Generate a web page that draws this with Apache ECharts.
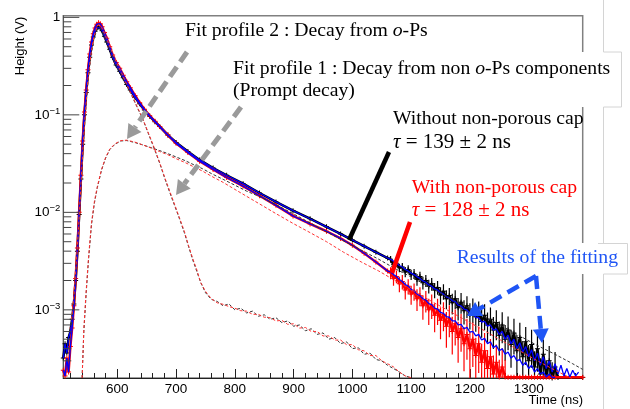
<!DOCTYPE html>
<html><head><meta charset="utf-8">
<script src="https://cdn.jsdelivr.net/npm/echarts@6/dist/echarts.min.js"></script>
<style>html,body{margin:0;padding:0;background:#fff}#c{width:630px;height:409px}</style>
</head><body><div id="c"></div>
<script>
// ---------- axis ticks ----------
const xMajorTicks = [600,700,800,900,1000,1100,1200,1300];
const xMinorTicks = [520,540,560,580,620,640,660,680,720,740,760,780,820,840,860,880,920,940,960,980,1020,1040,1060,1080,1120,1140,1160,1180,1220,1240,1260,1280,1320,1340,1360,1380];
const yMajorTicks = [0.001,0.01,0.1,1];
const yMinorTicks = [3e-4,4e-4,5e-4,6e-4,7e-4,8e-4,9e-4,2e-3,3e-3,4e-3,5e-3,6e-3,7e-3,8e-3,9e-3,0.02,0.03,0.04,0.05,0.06,0.07,0.08,0.09,0.2,0.3,0.4,0.5,0.6,0.7,0.8,0.9];

// ---------- data (ns, V) ----------
const smoothT = [508,511,514,517,520,523,526,529,532,535,538,541,544,547,550,553,556,559,562,565,568,571,574,578,582,587,592,598,604,610,616,622,630,638,646,655,664,672,686,700,720,740,763,786,814,842,870,899,928,956,980,1000,1020,1040,1060];
const blackSmoothV = [3.2e-4,4.5e-4,3.6e-4,5.2e-4,6e-4,8e-4,1.15e-3,2e-3,4e-3,9.5e-3,
  2.2e-2,5e-2,0.1,0.17,0.27,0.39,0.52,0.63,0.72,0.78,
  0.80,0.78,0.73,0.64,0.56,0.47,0.39,0.325,0.28,0.24,
  0.205,0.18,0.152,0.13,0.112,0.097,0.085,0.076,0.062,0.052,
  0.042,0.0345,0.0285,0.024,0.0197,0.0158,0.0128,0.0104,0.0086,0.0071,
  0.006,0.0052,0.0045,0.0039,0.0034];
const redSmoothV = [2.4e-4,2.1e-4,3.2e-4,2.3e-4,4.2e-4,6.5e-4,1.1e-3,2.1e-3,4.3e-3,1.0e-2,
  2.4e-2,5.4e-2,0.107,0.18,0.29,0.42,0.56,0.68,0.78,0.85,
  0.88,0.86,0.80,0.70,0.61,0.50,0.41,0.345,0.30,0.255,
  0.218,0.19,0.158,0.133,0.114,0.098,0.086,0.076,0.062,0.051,
  0.041,0.0335,0.0275,0.0228,0.0186,0.0148,0.0118,0.0092,0.0076,0.0064,
  0.0054,0.0046,0.0038,0.0031,0.0025];

const tailT = [1065,1070,1075,1080,1085,1090,1095,1100,1105,1110,1115,1120,1125,1130,1135,1140,1145,1150,1155,1160,1165,1170,1175,1180,1185,1190,1195,1200,1205,1210,1215,1220,1225,1230,1235,1240,1245,1250,1255,1260,1265,1270,1275,1280,1285,1290,1295,1300,1305,1310,1315,1320,1325,1330,1335,1340,1345];
const blackTailV = [3.3e-3,2.9e-3,3.0e-3,2.7e-3,2.75e-3,2.45e-3,2.6e-3,2.3e-3,2.35e-3,2.05e-3,
  2.2e-3,1.9e-3,2.0e-3,1.75e-3,1.85e-3,1.6e-3,1.7e-3,1.42e-3,1.55e-3,1.3e-3,
  1.4e-3,1.18e-3,1.3e-3,1.05e-3,1.2e-3,0.98e-3,1.1e-3,0.9e-3,1.02e-3,0.85e-3,
  0.95e-3,0.76e-3,0.88e-3,0.7e-3,0.8e-3,0.62e-3,0.74e-3,0.55e-3,0.7e-3,0.5e-3,
  0.62e-3,0.44e-3,0.58e-3,0.38e-3,0.52e-3,0.33e-3,0.47e-3,0.3e-3,0.44e-3,0.26e-3,
  0.4e-3,0.22e-3,0.35e-3,0.21e-3,0.3e-3,0.2e-3,0.26e-3];
const blackTailErr = [0.08,0.1,0.08,0.1,0.1,0.12,0.1,0.12,0.12,0.14,
  0.12,0.15,0.14,0.16,0.15,0.18,0.16,0.2,0.18,0.22,
  0.2,0.24,0.22,0.26,0.24,0.28,0.25,0.3,0.28,0.3,
  0.28,0.32,0.3,0.34,0.32,0.36,0.34,0.38,0.35,0.4,
  0.38,0.42,0.4,0.45,0.42,0.45,0.42,0.45,0.42,0.45,
  0.42,0.45,0.42,0.45,0.42,0.45,0.42];
const blackFloorT = [1350,1392];
const blackFloorV = [2.02e-4,2.02e-4];
const redTailV = [2.4e-3,2.1e-3,2.2e-3,1.85e-3,1.95e-3,1.6e-3,1.75e-3,1.45e-3,1.55e-3,1.3e-3,
  1.4e-3,1.1e-3,1.25e-3,1.0e-3,1.12e-3,0.88e-3,1.0e-3,0.78e-3,0.9e-3,0.68e-3,
  0.82e-3,0.6e-3,0.72e-3,0.52e-3,0.64e-3,0.45e-3,0.56e-3,0.4e-3,0.5e-3,0.34e-3,
  0.45e-3,0.29e-3,0.38e-3,0.25e-3,0.33e-3,0.22e-3,0.29e-3,0.205e-3,0.26e-3,0.205e-3,
  2.03e-4,2.03e-4,2.03e-4,2.03e-4,2.03e-4,2.03e-4,2.03e-4,2.03e-4,2.03e-4,2.03e-4,
  2.03e-4,2.03e-4,2.03e-4,2.03e-4,2.03e-4,2.03e-4,2.03e-4];
const redTailErr = [0.14,0.16,0.15,0.18,0.17,0.2,0.18,0.22,0.2,0.25,
  0.22,0.28,0.25,0.3,0.28,0.33,0.3,0.36,0.33,0.4,
  0.36,0.42,0.4,0.45,0.42,0.48,0.45,0.5,0.48,0.52,
  0.5,0.55,0.52,0.55,0.52,0.55,0.52,0.5,0.55,0.5,
  0,0,0,0,0,0,0,0,0,0,
  0,0,0,0,0,0,0];
const redFloorT = [1392];
const redFloorV = [2.03e-4];

const fitBlackTailV = [3.3e-3,3.15e-3,3.0e-3,2.85e-3,2.75e-3,2.6e-3,2.5e-3,2.38e-3,2.3e-3,2.18e-3,
  2.1e-3,1.98e-3,1.92e-3,1.8e-3,1.75e-3,1.64e-3,1.6e-3,1.5e-3,1.45e-3,1.36e-3,
  1.33e-3,1.24e-3,1.22e-3,1.12e-3,1.1e-3,1.02e-3,1.0e-3,0.92e-3,0.92e-3,0.84e-3,
  0.83e-3,0.75e-3,0.76e-3,0.68e-3,0.7e-3,0.62e-3,0.64e-3,0.56e-3,0.6e-3,0.5e-3,
  0.55e-3,0.45e-3,0.5e-3,0.4e-3,0.46e-3,0.37e-3,0.42e-3,0.33e-3,0.39e-3,0.3e-3,
  0.36e-3,0.27e-3,0.33e-3,0.25e-3,0.3e-3,0.23e-3,0.28e-3];
const fitBlackEndT = [1350,1355,1360,1365,1370,1375,1380,1385];
const fitBlackEndV = [0.22e-3,0.27e-3,0.21e-3,0.25e-3,0.205e-3,0.24e-3,0.21e-3,0.23e-3];
const fitRedTailV = [2.45e-3,2.3e-3,2.2e-3,2.05e-3,1.95e-3,1.82e-3,1.75e-3,1.62e-3,1.56e-3,1.45e-3,
  1.4e-3,1.3e-3,1.26e-3,1.16e-3,1.13e-3,1.04e-3,1.02e-3,0.94e-3,0.92e-3,0.85e-3,
  0.84e-3,0.77e-3,0.77e-3,0.7e-3,0.71e-3,0.64e-3,0.66e-3,0.59e-3,0.6e-3,0.54e-3,
  0.56e-3,0.49e-3,0.51e-3,0.45e-3,0.47e-3,0.41e-3,0.43e-3,0.38e-3,0.4e-3,0.35e-3,
  0.37e-3,0.32e-3,0.34e-3,0.3e-3,0.31e-3,0.27e-3,0.29e-3,0.25e-3,0.27e-3,0.23e-3,
  0.25e-3,0.22e-3,0.23e-3,0.205e-3,0.22e-3,0.203e-3,0.203e-3];

// o-Ps component (fit profile 2)
const opsT = [540,543,547,551,556,561,566,573,580,587,596,606,616,630,644,658,672,686,700,715,729,745,760,780,800,820,842,870,899,928,956,985,1015,1045,1075,1105,1135,1165,1195,1225,1255,1285,1315,1345,1375,1392];
const opsBlackV = [2e-4,6e-4,1.5e-3,3.3e-3,7.5e-3,0.0125,0.018,0.027,0.036,0.044,
  0.050,0.054,0.0545,0.052,0.049,0.046,0.043,0.040,0.037,0.034,
  0.031,0.028,0.025,0.0218,0.019,0.0165,0.0145,0.012,0.0097,0.0078,
  0.0063,0.0051,0.0041,0.0033,0.0026,0.0021,0.00166,0.00133,0.00106,0.00085,
  0.00068,0.00054,0.00043,0.00035,0.00028,0.000245];
const opsRedV = [2e-4,6.5e-4,1.6e-3,3.5e-3,7.8e-3,0.013,0.0185,0.0275,0.0365,0.0445,
  0.0505,0.0545,0.055,0.0525,0.049,0.0455,0.042,0.039,0.0355,0.0325,
  0.0295,0.0265,0.0235,0.0203,0.0172,0.0146,0.0122,0.0097,0.0077,0.0062,
  0.005,0.0039,0.0031,0.0025,0.00196,0.00155,0.00122,0.00097,0.00077,0.00061,
  0.00048,0.00038,0.0003,0.00024,0.000195,0.00018];

// prompt component (fit profile 1)
const promptT = [522,526,530,534,538,542,546,550,555,560,565,568,572,578,585,592,599,607,616,625,633,644,652,661,672,681,690,698,706,714,721,728,735,742,750,760,770,780,790,800,810,820,830,840,850,860,870,880,890,900,910,920,930,940,950,960,970,980,990,1000,1010,1020,1030,1040,1050,1060,1070,1080,1090,1100];
const promptBlackV = [7e-4,1.3e-3,2.8e-3,6.5e-3,1.8e-2,5e-2,0.11,0.22,0.4,0.6,0.74,
  0.78,0.76,0.64,0.5,0.4,0.32,0.26,0.2,0.155,0.122,
  0.088,0.066,0.048,0.032,0.022,0.0155,0.0115,0.0085,0.0062,0.0045,
  0.0033,0.0025,0.0019,0.0015,
  0.00128,0.00122,0.0011,0.00115,0.001,0.00104,0.00093,0.00097,0.00086,0.00089,
  0.0008,0.00083,0.00074,0.00077,0.00068,0.0007,0.00061,0.00064,0.00056,0.00058,
  0.0005,0.00052,0.00045,0.00047,0.0004,0.00041,0.00035,0.00036,0.00031,0.0003,
  0.00027,0.00025,0.00023,0.00021,0.000201];
const promptRedV = [8e-4,1.4e-3,3e-3,7e-3,1.9e-2,5.2e-2,0.115,0.23,0.42,0.63,0.79,
  0.84,0.82,0.69,0.54,0.43,0.34,0.27,0.205,0.158,0.124,
  0.089,0.067,0.049,0.0325,0.0225,0.016,0.0118,0.0087,0.0064,0.0046,
  0.0034,0.0026,0.0019,0.00155,
  0.0013,0.00118,0.00114,0.00108,0.00104,0.00098,0.00097,0.0009,0.0009,0.00084,
  0.00083,0.00077,0.00078,0.00071,0.00072,0.00065,0.00066,0.0006,0.0006,0.00054,
  0.00054,0.00049,0.00049,0.00044,0.00044,0.00039,0.00038,0.00034,0.00034,0.0003,
  0.00028,0.00026,0.00023,0.00021,0.000201];

// ---------- helpers ----------
function pairs(T, V){ return T.map((t,i)=>[t, V[i]]); }
function triples(T, V, E){ return T.map((t,i)=>[t, V[i], E[i]]); }
const crossSym = 'path://M4,0h2v4h4v2h-4v4h-2v-4h-4v-2h4z';
const serif = 'Liberation Serif';
const sans = 'Liberation Sans';
const BLUE = '#1f55f5';
const X_MIN = 508, X_MAX = 1392, Y_MIN = 2e-4, Y_MAX = 1.04;
const GRID_L = 63.3, GRID_R = 47.3, GRID_T = 15.7, GRID_B = 31;
const NS_PER_PX = (X_MAX - X_MIN) / (630 - GRID_L - GRID_R);

function arrow(x1,y1,x2,y2,color,w,dash,L,H){
  const dx=x2-x1, dy=y2-y1, d=Math.hypot(dx,dy), ux=dx/d, uy=dy/d;
  const bx=x2-ux*L, by=y2-uy*L;
  return [
    {type:'line', z:100, shape:{x1:x1,y1:y1,x2:bx,y2:by}, style:{stroke:color,lineWidth:w,lineDash:dash}},
    {type:'polygon', z:100, shape:{points:[[x2,y2],[bx-uy*H,by+ux*H],[bx+uy*H,by-ux*H]]}, style:{fill:color}}
  ];
}
function txt(x,y,text,color,size,rich){
  return {type:'text', z:101, x:x, y:y, style:{text:text, fill:color, fontFamily:serif, fontSize:size, align:'left', verticalAlign:'middle', rich:rich||{}}};
}
const italicRich = c => ({i:{fontFamily:serif, fontStyle:'italic', fontSize:19.7, fill:c}});
const tauRich = c => ({i:{fontFamily:serif, fontStyle:'italic', fontSize:21, fill:c}});

const dataLine = (c,w) => ({type:'line', smooth:false, animation:false, showAllSymbol:true, symbol:crossSym, symbolSize:5,
  itemStyle:{color:c}, lineStyle:{color:c, width:w}, emphasis:{disabled:true}});
const plainLine = (c,w,dash) => ({type:'line', smooth:false, animation:false, showSymbol:false, symbol:'none',
  lineStyle:{color:c, width:w, type:dash||'solid'}, emphasis:{disabled:true}});

function errSeries(T, V, E, color){
  return {type:'custom', coordinateSystem:'cartesian2d', silent:true, z:2, clip:true, animation:false,
    encode:{x:0, y:1},
    data: triples(T, V, E),
    renderItem: function(params, api){
      const t = api.value(0), v = api.value(1), e = api.value(2);
      if (!e) return null;
      const lo = Math.max(v*(1-e), Y_MIN), hi = v*(1+e);
      const a = api.coord([t, lo]), b = api.coord([t, hi]);
      return {type:'line', shape:{x1:a[0], y1:a[1], x2:b[0], y2:b[1]}, style:{stroke:color, lineWidth:1.2}};
    }};
}
// y tick marks as short two-point line series, positioned by the log axis itself
function yTickLines(values, lenPx){
  return values.map(v => Object.assign(plainLine('#444', 1), {
    z:6, silent:true, clip:false,
    data: [[X_MIN, v], [X_MIN + lenPx * NS_PER_PX, v]]
  }));
}

const series = [
  errSeries(tailT, blackTailV, blackTailErr, '#000'),
  Object.assign(dataLine('#000',2.5), {name:'without', z:2,
    data: pairs(smoothT.concat(tailT, blackFloorT), blackSmoothV.concat(blackTailV, blackFloorV))}),
  errSeries(tailT, redTailV, redTailErr, '#ff0000'),
  Object.assign(dataLine('#ff0000',2.5), {name:'with', z:3,
    data: pairs(smoothT.concat(tailT, redFloorT), redSmoothV.concat(redTailV, redFloorV))}),
  Object.assign(plainLine('#0000ff',1.3), {z:4,
    data: pairs(smoothT.concat(tailT, fitBlackEndT), blackSmoothV.concat(fitBlackTailV, fitBlackEndV))}),
  Object.assign(plainLine('#0000ff',1.3), {z:4,
    data: pairs(smoothT.concat(tailT), redSmoothV.concat(fitRedTailV))}),
  Object.assign(plainLine('#333',1,[3,2]), {z:5, data: pairs(opsT, opsBlackV)}),
  Object.assign(plainLine('#ff3333',1,[3,2]), {z:5, data: pairs(opsT, opsRedV)}),
  Object.assign(plainLine('#333',1,[3,2]), {z:5, data: pairs(promptT, promptBlackV)}),
  Object.assign(plainLine('#ff3333',1,[3,2]), {z:5, data: pairs(promptT, promptRedV)})
].concat(yTickLines(yMajorTicks, 16), yTickLines(yMinorTicks, 8));

const graphic = [].concat(
  [{type:'line', z:99, shape:{x1:603.5,y1:0,x2:603.5,y2:409}, style:{stroke:'#d4d4d4', lineWidth:1}},
   {type:'rect', z:99, shape:{x:228,y:52,width:393,height:55}, style:{fill:'#fff'}},
   {type:'polyline', z:99, shape:{points:[[603.5,52],[621.5,52],[621.5,107],[603.5,107]]}, style:{stroke:'#d4d4d4', lineWidth:1, fill:null}},
   {type:'rect', z:99, shape:{x:452,y:243,width:175,height:31}, style:{fill:'#fff'}},
   {type:'polyline', z:99, shape:{points:[[598,243.5],[627.5,243.5],[627.5,274],[603.5,274]]}, style:{stroke:'#d4d4d4', lineWidth:1, fill:null}},
   {type:'text', z:101, x:20, y:46, rotation:Math.PI/2, style:{text:'Height (V)', fontFamily:sans, fontSize:13, fill:'#000', align:'center', verticalAlign:'middle'}},
   {type:'text', z:101, x:583, y:400, style:{text:'Time (ns)', fontFamily:sans, fontSize:13, fill:'#000', align:'right', verticalAlign:'middle'}}
  ],
  arrow(187,52,127,139,'#9a9a9a',5,[12,6],14,8),
  arrow(241,107,176,195,'#9a9a9a',5,[12,6],14,8),
  [{type:'line', z:100, shape:{x1:389,y1:152,x2:349,y2:240}, style:{stroke:'#000', lineWidth:4.5}},
   {type:'line', z:100, shape:{x1:410,y1:222,x2:392,y2:273}, style:{stroke:'#ff0000', lineWidth:4.5}}],
  arrow(536,276,467,316,BLUE,4.5,[13,7],14,8),
  arrow(536,276,542,343,BLUE,4.5,[13,7],14,8),
  [txt(185,31,'Fit profile 2 : Decay from {i|o}-Ps','#000',19.7,italicRich('#000')),
   txt(233,69,'Fit profile 1 : Decay from non {i|o}-Ps components','#000',19.7,italicRich('#000')),
   txt(233,91,'(Prompt decay)','#000',19.7),
   txt(393,119,'Without non-porous cap','#000',19.7),
   txt(393,142,'{i|τ} = 139 ± 2 ns','#000',21,tauRich('#000')),
   txt(411.7,188,'With non-porous cap','#ff0000',19.7),
   txt(411.7,210.7,'{i|τ} = 128 ± 2 ns','#ff0000',21,tauRich('#ff0000')),
   txt(456.7,258,'Results of the fitting',BLUE,19.7)]
);

const chart = echarts.init(document.getElementById('c'), null, {renderer:'canvas'});
chart.setOption({
  animation:false,
  backgroundColor:'#fff',
  grid:{left:GRID_L, right:GRID_R, top:GRID_T, bottom:GRID_B, show:true, borderColor:'#808080', borderWidth:1.5, containLabel:false},
  xAxis:[
    {type:'value', min:X_MIN, max:X_MAX, position:'bottom',
     axisLine:{show:true, onZero:false, lineStyle:{color:'#222', width:1}},
     axisTick:{show:true, inside:true, length:9, customValues:xMajorTicks, lineStyle:{color:'#222'}},
     axisLabel:{show:true, customValues:xMajorTicks, margin:4, fontFamily:sans, fontSize:13.5, color:'#000',
       formatter:function(v){ return String(v); }},
     splitLine:{show:false}},
    {type:'value', min:X_MIN, max:X_MAX, position:'bottom',
     axisLine:{show:false, onZero:false},
     axisTick:{show:true, inside:true, length:5, customValues:xMinorTicks, lineStyle:{color:'#222'}},
     axisLabel:{show:false}, splitLine:{show:false}}
  ],
  yAxis:[
    {type:'log', logBase:10, min:Y_MIN, max:Y_MAX, position:'left',
     axisLine:{show:true, onZero:false, lineStyle:{color:'#555', width:1}},
     axisTick:{show:false},
     axisLabel:{show:true, customValues:yMajorTicks, margin:3, fontFamily:sans, fontSize:13.5, color:'#000',
       formatter:function(v){ const e=Math.round(Math.log10(v)); return e===0 ? '1' : '10{s|−'+(-e)+'}'; },
       rich:{s:{fontFamily:sans, fontSize:9.5, color:'#000', padding:[0,0,7,0]}}},
     splitLine:{show:false}}
  ],
  series: series,
  graphic: graphic
});
</script></body></html>
